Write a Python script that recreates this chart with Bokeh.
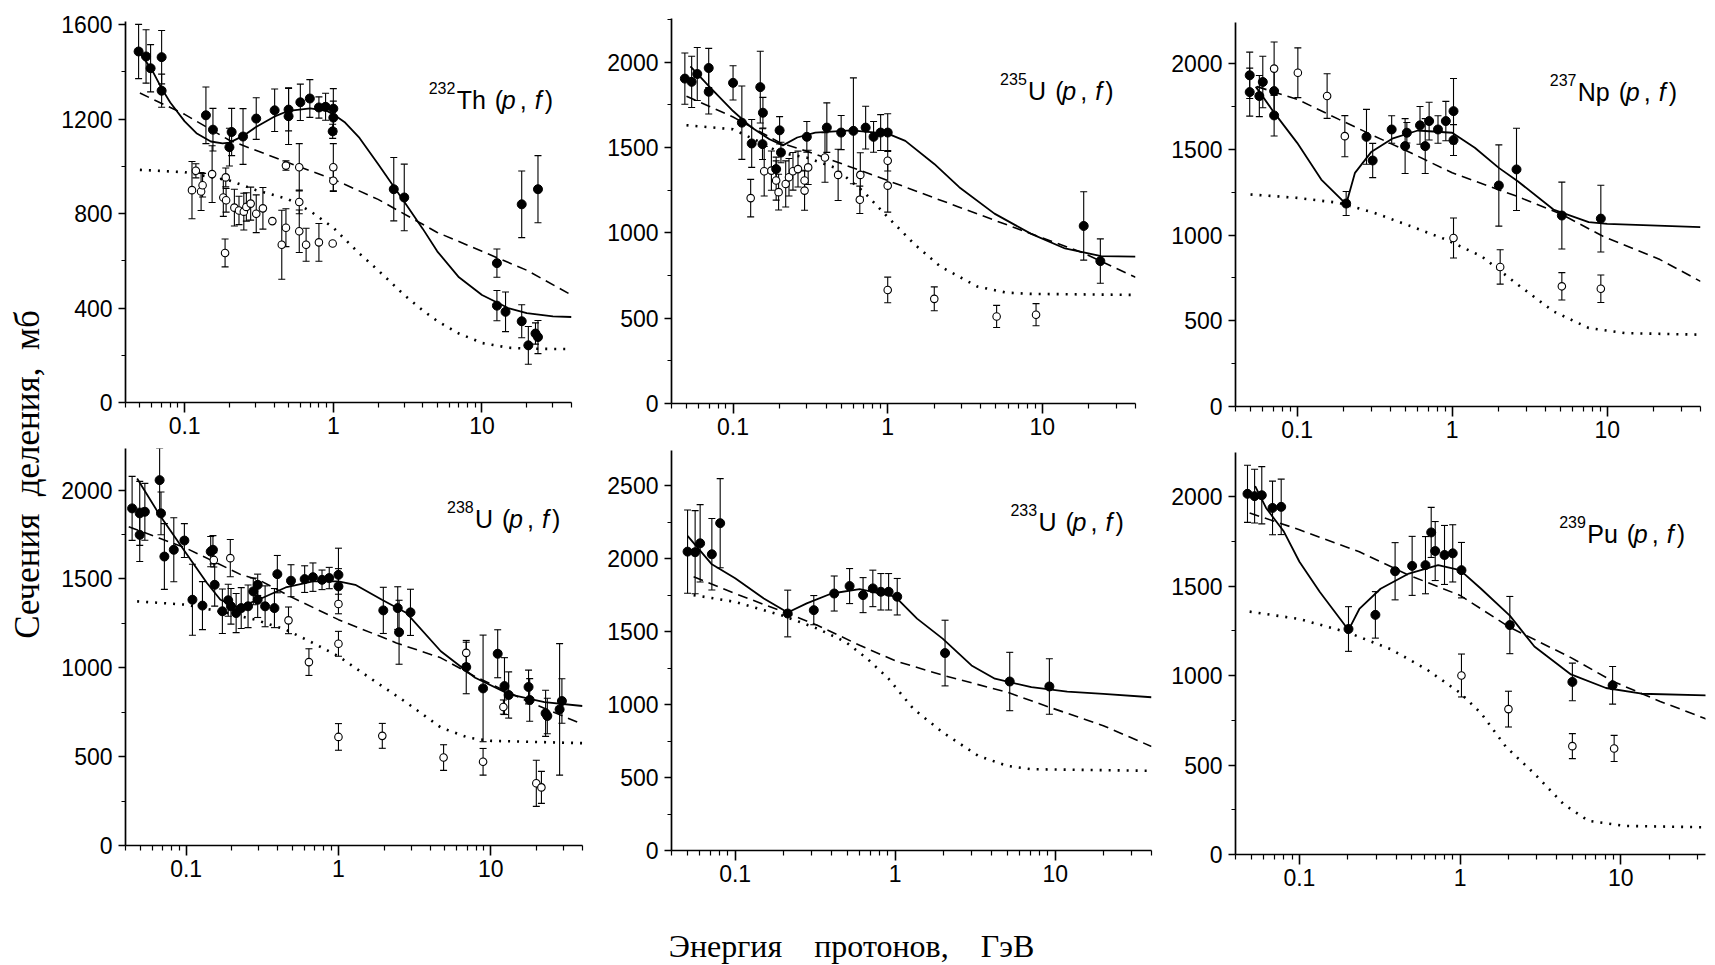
import math
from bokeh.plotting import figure
from bokeh.layouts import row, column
from bokeh.models import (Range1d, FixedTicker, CustomJSTickFormatter, Whisker, TeeHead,
                          ColumnDataSource, Spacer)
from bokeh.core.properties import value
from bokeh.embed import file_html
from bokeh.resources import INLINE

# ---------------- axis tick data ----------------
X_MAJOR = [0.1, 1, 10]
X_MINOR = [0.04, 0.05, 0.06, 0.07, 0.08, 0.09, 0.2, 0.3, 0.4, 0.5, 0.6, 0.7, 0.8, 0.9,
           2, 3, 4, 5, 6, 7, 8, 9, 20, 30, 40]
Y_TICKS_TH = [0, 400, 800, 1200, 1600]
Y_MINOR_TH = [200, 600, 1000, 1400]
Y_TICKS_U = [0, 500, 1000, 1500, 2000]
Y_TICKS_U233 = [0, 500, 1000, 1500, 2000, 2500]
Y_MINOR_U = [250, 750, 1250, 1750, 2250]

NB = "\u00a0"
Y_TITLE = "Сечения" + NB * 2 + "деления," + NB * 2 + "мб"
X_TITLE = "Энергия" + NB * 4 + "протонов," + NB * 4 + "ГэВ"

# ---------------- 232Th ----------------
TH232_F_E = [0.049, 0.055, 0.059, 0.070, 0.070, 0.139, 0.155, 0.200, 0.207, 0.247, 0.303, 0.403, 0.50, 0.50,
             0.60, 0.695, 0.80, 0.887, 1.0, 1.0, 0.99, 2.55, 3.0, 12.6, 12.6, 14.4, 18.5, 18.5, 20.5, 22.9, 23.8, 23.8]
TH232_F_V = [1486, 1465, 1415, 1462, 1320, 1216, 1155, 1081, 1145, 1126, 1202, 1237, 1240, 1212,
             1271, 1287, 1249, 1252, 1244, 1206, 1148, 903, 868, 590, 410, 384, 839, 344, 242, 292, 903, 277]
TH232_F_ERR = [115, 113, 100, 113, 70, 120, 90, 80, 100, 118, 88, 90, 90, 120,
               77, 80, 45, 57, 85, 70, 30, 134, 141, 60, 64, 84, 141, 70, 80, 45, 142, 70]
TH232_O_E = [0.112, 0.119, 0.129, 0.132, 0.153, 0.182, 0.189, 0.187, 0.19, 0.216, 0.232, 0.25, 0.26, 0.278,
             0.303, 0.336, 0.389, 0.45, 0.48, 0.48, 0.59, 0.59, 0.59, 0.656, 0.80, 1.0, 1.0, 0.99]
TH232_O_V = [899, 981, 893, 920, 967, 868, 953, 633, 856, 825, 813, 808, 828, 842,
             799, 822, 768, 668, 740, 1003, 996, 849, 725, 668, 678, 996, 939, 673]
TH232_O_ERR = [121, 30, 80, 50, 120, 80, 40, 59, 50, 78, 60, 78, 60, 70,
               80, 88, 0, 146, 80, 20, 100, 50, 90, 70, 80, 100, 45, 0]
TH232_SOLID_E = [0.05, 0.06, 0.07, 0.08, 0.1, 0.12, 0.15, 0.18, 0.2, 0.25, 0.3, 0.4, 0.5, 0.7, 0.9, 1.0,
                 1.2, 1.5, 2, 3, 4, 5, 7, 10, 15, 20, 30, 40]
TH232_SOLID_V = [1480, 1410, 1330, 1270, 1190, 1140, 1105, 1097, 1100, 1130, 1165, 1210, 1235, 1245, 1235, 1220,
                 1185, 1120, 1010, 850, 735, 640, 530, 455, 400, 378, 365, 362]
TH232_DASH_E = [0.05, 0.1, 0.2, 0.5, 1, 2, 5, 10, 20, 40]
TH232_DASH_V = [1310, 1220, 1110, 1015, 945, 860, 720, 640, 560, 455]
TH232_DOT_E = [0.05, 0.1, 0.2, 0.3, 0.5, 0.7, 1, 1.5, 2, 3, 4, 5, 7, 10, 15, 20, 40]
TH232_DOT_V = [985, 975, 940, 900, 860, 810, 740, 630, 560, 455, 390, 345, 292, 252, 232, 228, 226]

# ---------------- 235U ----------------
U235_F_E = [0.0488, 0.054, 0.0587, 0.0696, 0.0696, 0.1, 0.114, 0.132, 0.15, 0.156, 0.155, 0.2, 0.204, 0.19,
            0.3, 0.404, 0.5, 0.6, 0.72, 0.81, 0.9, 1.0, 18.5, 23.7]
U235_F_V = [1903, 1884, 1930, 1965, 1826, 1878, 1645, 1523, 1853, 1703, 1519, 1600, 1470, 1373,
            1562, 1616, 1587, 1597, 1616, 1562, 1587, 1587, 1040, 834]
U235_F_ERR = [150, 150, 155, 115, 130, 100, 215, 140, 210, 90, 90, 80, 60, 70,
              90, 145, 100, 310, 125, 90, 105, 110, 200, 130]
U235_O_E = [0.13, 0.159, 0.177, 0.19, 0.197, 0.219, 0.23, 0.244, 0.263, 0.29, 0.29, 0.306, 0.393, 0.478,
            0.665, 0.66, 1.0, 1.0, 1.0, 2.0, 5.06, 9.1]
U235_O_V = [1203, 1360, 1364, 1306, 1238, 1286, 1325, 1360, 1373, 1247, 1306, 1383, 1441, 1339,
            1339, 1193, 1422, 1276, 665, 613, 510, 520]
U235_O_ERR = [110, 145, 115, 115, 105, 135, 110, 110, 105, 115, 60, 100, 145, 150,
              130, 80, 60, 155, 75, 70, 65, 65]
U235_SOLID_E = [0.053, 0.07, 0.1, 0.132, 0.172, 0.21, 0.26, 0.34, 0.58, 1.0, 1.3, 2.0, 2.9, 4.9, 8.4, 14, 24, 40]
U235_SOLID_V = [1975, 1858, 1713, 1616, 1548, 1512, 1558, 1587, 1600, 1581, 1538, 1403, 1267, 1112, 995, 908, 863, 860]
U235_DASH_E = [0.05, 0.1, 0.2, 0.34, 1.0, 2.9, 8.4, 18.7, 40]
U235_DASH_V = [1800, 1678, 1529, 1461, 1306, 1150, 995, 879, 739]
U235_DOT_E = [0.05, 0.1, 0.15, 0.2, 0.3, 0.45, 0.7, 1, 1.5, 2.2, 3.8, 5.8, 8.4, 40]
U235_DOT_V = [1630, 1606, 1530, 1470, 1440, 1383, 1240, 1092, 930, 801, 685, 650, 642, 636]

# ---------------- 237Np ----------------
NP237_F_E = [0.0494, 0.0494, 0.057, 0.06, 0.071, 0.071, 0.207, 0.28, 0.307, 0.407, 0.497, 0.51, 0.62, 0.67,
             0.71, 0.81, 0.91, 1.02, 1.02, 2.0, 2.6, 5.1, 9.1]
NP237_F_V = [1932, 1834, 1811, 1893, 1840, 1698, 1184, 1573, 1435, 1616, 1519, 1597, 1640, 1519,
             1665, 1616, 1665, 1723, 1554, 1289, 1383, 1114, 1096]
NP237_F_ERR = [135, 140, 120, 150, 130, 120, 70, 160, 100, 80, 160, 60, 110, 160,
               110, 80, 115, 190, 90, 237, 240, 195, 195]
NP237_O_E = [0.071, 0.101, 0.156, 0.203, 1.02, 2.04, 5.1, 9.1]
NP237_O_V = [1971, 1947, 1811, 1577, 983, 814, 701, 687]
NP237_O_ERR = [155, 145, 130, 120, 117, 100, 80, 80]
NP237_SOLID_E = [0.054, 0.071, 0.1, 0.143, 0.207, 0.236, 0.3, 0.41, 0.6, 1.0, 1.4, 2.0, 2.65, 4.5, 7.6, 10, 40]
NP237_SOLID_V = [1866, 1714, 1538, 1324, 1180, 1363, 1484, 1562, 1610, 1597, 1509, 1392, 1314, 1149, 1075, 1065, 1046]
NP237_DASH_E = [0.055, 0.1, 0.186, 0.316, 0.54, 1.0, 2.6, 5.1, 9.4, 21.9, 40]
NP237_DASH_V = [1866, 1792, 1675, 1577, 1480, 1363, 1227, 1120, 993, 857, 730]
NP237_DOT_E = [0.05, 0.1, 0.186, 0.316, 0.54, 0.91, 1.55, 2.65, 4.5, 7.6, 13, 40]
NP237_DOT_V = [1237, 1217, 1188, 1129, 1052, 974, 876, 711, 555, 458, 428, 419]

# ---------------- 238U ----------------
U238_F_E = [0.0442, 0.0496, 0.0496, 0.0536, 0.067, 0.0684, 0.072, 0.083, 0.0974, 0.11, 0.128, 0.145, 0.15, 0.154,
            0.173, 0.189, 0.197, 0.213, 0.23, 0.255, 0.276, 0.295, 0.295, 0.33, 0.38, 0.397, 0.488, 0.6, 0.68,
            0.78, 0.87, 1.0, 1.0, 1.97, 2.45, 2.5, 2.97, 6.9, 8.9, 11.1, 12.3, 13.1, 17.7, 18, 22.9, 23.5, 28.3, 29.3]
U238_F_V = [1897, 1869, 1748, 1878, 2056, 1869, 1626, 1664, 1716, 1383, 1350, 1654, 1664, 1467,
            1318, 1380, 1346, 1308, 1336, 1346, 1430, 1467, 1383, 1346, 1336, 1527, 1490, 1499, 1510,
            1495, 1505, 1523, 1458, 1323, 1336, 1200, 1312, 1004, 884, 1079, 897, 847, 892, 819, 744, 729, 766, 813]
U238_F_ERR = [180, 180, 150, 160, 180, 120, 185, 180, 95, 200, 135, 85, 80, 120,
              125, 90, 100, 110, 115, 120, 75, 60, 100, 115, 110, 105, 90, 75, 80,
              55, 60, 150, 100, 130, 120, 180, 130, 150, 300, 135, 160, 130, 95, 120, 130, 100, 370, 125]
U238_O_E = [0.152, 0.195, 0.47, 0.64, 1.0, 1.0, 1.0, 1.94, 4.9, 6.9, 8.9, 12.1, 19.9, 21.5]
U238_O_V = [1607, 1617, 1267, 1032, 1359, 1135, 611, 617, 495, 1084, 471, 779, 350, 327]
U238_O_ERR = [40, 105, 75, 75, 55, 70, 75, 70, 72, 60, 75, 40, 130, 90]
U238_SOLID_E = [0.0477, 0.067, 0.1, 0.137, 0.168, 0.218, 0.298, 0.45, 0.68, 1.0, 1.29, 1.93, 2.8, 4.7, 7.9, 13.3, 22.5, 40]
U238_SOLID_V = [2065, 1860, 1645, 1477, 1383, 1340, 1383, 1452, 1486, 1486, 1467, 1383, 1308, 1093, 944, 850, 807, 785]
U238_DASH_E = [0.042, 0.067, 0.1, 0.16, 0.23, 0.3, 0.48, 1.0, 2.4, 4.7, 7.9, 17.3, 40]
U238_DASH_V = [1794, 1729, 1673, 1589, 1523, 1495, 1402, 1271, 1140, 1056, 950, 813, 682]
U238_DOT_E = [0.0477, 0.1, 0.187, 0.283, 0.45, 0.68, 1.0, 1.66, 2.8, 4.7, 7.1, 10, 40]
U238_DOT_V = [1374, 1355, 1308, 1271, 1215, 1140, 1065, 935, 804, 664, 607, 589, 576]

# ---------------- 233U ----------------
U233_F_E = [0.0504, 0.0562, 0.0604, 0.0715, 0.0806, 0.213, 0.31, 0.416, 0.519, 0.63, 0.725, 0.814, 0.91, 1.03,
            2.05, 5.2, 9.2]
U233_F_V = [2048, 2044, 2105, 2030, 2243, 1624, 1647, 1761, 1812, 1750, 1796, 1773, 1773, 1739, 1353, 1158, 1124]
U233_F_ERR = [285, 285, 265, 245, 305, 160, 100, 120, 120, 120, 125, 125, 125, 125, 225, 200, 190]
U233_SOLID_E = [0.0504, 0.0715, 0.1, 0.151, 0.213, 0.28, 0.4, 0.6, 1.0, 1.37, 1.98, 3.0, 4.2, 7.1, 11.9, 20, 40]
U233_SOLID_V = [2156, 1961, 1865, 1727, 1631, 1693, 1761, 1791, 1739, 1589, 1452, 1268, 1177, 1119, 1089, 1073, 1050]
U233_DASH_E = [0.055, 0.1, 0.213, 0.326, 0.6, 1.0, 2.0, 5.0, 9.2, 20, 40]
U233_DASH_V = [1876, 1761, 1624, 1544, 1406, 1300, 1200, 1085, 982, 855, 713]
U233_DOT_E = [0.055, 0.1, 0.195, 0.326, 0.49, 0.67, 0.91, 1.3, 1.98, 3.3, 5.0, 7.1, 40]
U233_DOT_V = [1750, 1704, 1612, 1521, 1429, 1314, 1177, 970, 810, 649, 580, 557, 546]

# ---------------- 239Pu ----------------
PU239_F_E = [0.0475, 0.0526, 0.0583, 0.068, 0.077, 0.202, 0.297, 0.394, 0.503, 0.609, 0.661, 0.70, 0.80, 0.90,
             1.02, 2.04, 5.0, 8.9]
PU239_F_V = [2017, 2004, 2009, 1938, 1944, 1261, 1340, 1584, 1614, 1618, 1801, 1697, 1675, 1684,
             1590, 1283, 965, 946]
PU239_F_ERR = [160, 150, 160, 150, 155, 125, 130, 160, 165, 160, 140, 165, 165, 160, 155, 160, 105, 105]
PU239_O_E = [1.02, 2.0, 5.0, 9.1]
PU239_O_V = [1001, 813, 606, 593]
PU239_O_ERR = [120, 100, 70, 73]
PU239_SOLID_E = [0.053, 0.062, 0.08, 0.1, 0.134, 0.202, 0.236, 0.32, 0.48, 0.73, 1.0, 1.35, 2.04, 2.9, 4.9, 8.1, 13.5, 40]
PU239_SOLID_V = [2060, 1938, 1806, 1637, 1468, 1255, 1373, 1486, 1571, 1618, 1590, 1486, 1336, 1163, 1007, 931, 899, 888]
PU239_DASH_E = [0.049, 0.1, 0.236, 0.48, 1.0, 2.04, 4.9, 8.9, 17.6, 40]
PU239_DASH_V = [1910, 1816, 1693, 1562, 1449, 1270, 1101, 969, 856, 734]
PU239_DOT_E = [0.049, 0.1, 0.2, 0.37, 0.62, 1.0, 1.35, 1.93, 2.9, 4.4, 6.3, 10.5, 40]
PU239_DOT_V = [1358, 1317, 1242, 1148, 1035, 904, 790, 602, 452, 282, 188, 160, 151]

TICK_FONT = "Liberation Sans Narrow, Liberation Sans"
LABEL_FONT = "Liberation Sans"
TITLE_FONT = "Liberation Serif"

CHAR_W = {"T": 0.611, "h": 0.556, "U": 0.722, "N": 0.722, "p": 0.556, "P": 0.667, "u": 0.556}


def make_panel(geom, xmax, ymax, yticks, yminor, data, label, label_pos):
    top_gap, width, mbl, mbr, mbt, frame_h, mbb = geom
    p = figure(width=width, height=mbt + frame_h + mbb, x_axis_type="log",
               x_range=Range1d(0.04, xmax), y_range=Range1d(0, ymax),
               output_backend="svg", toolbar_location=None,
               min_border_left=mbl, min_border_right=mbr,
               min_border_top=mbt, min_border_bottom=mbb)
    p.xgrid.visible = False
    p.ygrid.visible = False
    p.outline_line_color = None
    p.background_fill_color = "white"
    p.border_fill_color = "white"

    p.xaxis.ticker = FixedTicker(ticks=X_MAJOR, minor_ticks=X_MINOR)
    p.xaxis.formatter = CustomJSTickFormatter(code="return tick.toString();")
    p.yaxis.ticker = FixedTicker(ticks=yticks, minor_ticks=yminor)
    for ax in (p.xaxis[0], p.yaxis[0]):
        ax.axis_line_width = 1.7
        ax.axis_line_color = "black"
        ax.major_tick_line_width = 1.6
        ax.major_tick_line_color = "black"
        ax.minor_tick_line_width = 1.2
        ax.minor_tick_line_color = "black"
        ax.major_tick_in = 0
        ax.minor_tick_in = 0
        ax.major_label_text_font = TICK_FONT
        ax.major_label_text_font_size = "23px"
        ax.major_label_text_color = "black"
    p.xaxis.major_tick_out = 10
    p.xaxis.minor_tick_out = 5
    p.xaxis.major_label_standoff = 4
    p.yaxis.major_tick_out = 7
    p.yaxis.minor_tick_out = 4
    p.yaxis.major_label_standoff = 6

    fE, fV, fErr, oE, oV, oErr, sE, sV, dE, dV, tE, tV = data
    p.line(sE, sV, line_color="black", line_width=1.8)
    p.line(dE, dV, line_color="black", line_width=1.6, line_dash="10 6")
    p.line(tE, tV, line_color="black", line_width=2.6, line_dash="2 7")

    for E, V, ERR, filled in ((oE, oV, oErr, False), (fE, fV, fErr, True)):
        if not E:
            continue
        src = ColumnDataSource(dict(x=E, y=V,
                                    up=[v + e for v, e in zip(V, ERR)],
                                    lo=[v - e for v, e in zip(V, ERR)]))
        w = Whisker(base="x", upper="up", lower="lo", source=src, dimension="height",
                    line_color="black", line_width=1.1,
                    upper_head=TeeHead(size=7, line_width=1.1, line_color="black"),
                    lower_head=TeeHead(size=7, line_width=1.1, line_color="black"))
        p.add_layout(w)
        if filled:
            p.scatter("x", "y", source=src, size=9, marker="circle",
                      fill_color="black", line_color="black", line_width=1)
        else:
            p.scatter("x", "y", source=src, size=7.5, marker="circle",
                      fill_color="white", line_color="black", line_width=1.1)

    sup, elem = label
    lx, ly = label_pos
    fs = 25
    sup_w = 27
    el_x = sup_w + 1
    el_end = el_x + sum(CHAR_W[c] for c in elem) * fs
    paren = el_end + 9
    pieces = [
        (sup, "16px", "normal", 0, -12),
        (elem, f"{fs}px", "normal", el_x, 0),
        ("(", f"{fs}px", "normal", paren, 0),
        ("p", f"{fs}px", "italic", paren + 7, 0),
        (",", f"{fs}px", "normal", paren + 25, 0),
        ("f", f"{fs}px", "italic", paren + 40, 0),
        (")", f"{fs}px", "normal", paren + 50, 0),
    ]
    for txt, size, style, xo, yo in pieces:
        p.text(x=[lx], y=[ly], text=[txt], x_offset=xo, y_offset=yo,
               text_font=value(LABEL_FONT), text_font_size=size, text_font_style=style,
               text_color="black", text_align="left", text_baseline="alphabetic")
    if top_gap > 0:
        return column(Spacer(width=width, height=top_gap), p)
    return column(p)


# geometry: (top gap, width, border left, border right, border top, frame height, border bottom)
panels = [
    make_panel((7, 546, 62, 33, 14, 381, 42), 40, 1613, Y_TICKS_TH, Y_MINOR_TH,
               (TH232_F_E, TH232_F_V, TH232_F_ERR, TH232_O_E, TH232_O_V, TH232_O_ERR,
                TH232_SOLID_E, TH232_SOLID_V, TH232_DASH_E, TH232_DASH_V, TH232_DOT_E, TH232_DOT_V),
               ("232", "Th"), (4.38, 1281)),
    make_panel((4, 564, 66, 33, 14, 385, 42), 40, 2255, Y_TICKS_U, Y_MINOR_U,
               (U235_F_E, U235_F_V, U235_F_ERR, U235_O_E, U235_O_V, U235_O_ERR,
                U235_SOLID_E, U235_SOLID_V, U235_DASH_E, U235_DASH_V, U235_DOT_E, U235_DOT_V),
               ("235", "U"), (5.33, 1831)),
    make_panel((8, 539, 65, 7, 14, 384, 42), 40, 2240, Y_TICKS_U, Y_MINOR_U,
               (NP237_F_E, NP237_F_V, NP237_F_ERR, NP237_O_E, NP237_O_V, NP237_O_ERR,
                NP237_SOLID_E, NP237_SOLID_V, NP237_DASH_E, NP237_DASH_V, NP237_DOT_E, NP237_DOT_V),
               ("237", "Np"), (4.26, 1832)),
    make_panel((0, 546, 63, 22, 0, 397, 48), 40, 2234, Y_TICKS_U, Y_MINOR_U,
               (U238_F_E, U238_F_V, U238_F_ERR, U238_O_E, U238_O_V, U238_O_ERR,
                U238_SOLID_E, U238_SOLID_V, U238_DASH_E, U238_DASH_V, U238_DOT_E, U238_DOT_V),
               ("238", "U"), (5.16, 1838)),
    make_panel((2, 564, 66, 17, 0, 400, 48), 40, 2741, Y_TICKS_U233, Y_MINOR_U,
               (U233_F_E, U233_F_V, U233_F_ERR, [], [], [],
                U233_SOLID_E, U233_SOLID_V, U233_DASH_E, U233_DASH_V, U233_DOT_E, U233_DOT_V),
               ("233", "U"), (5.25, 2250)),
    make_panel((4, 539, 66, 2, 0, 402, 48), 33.7, 2248, Y_TICKS_U, Y_MINOR_U,
               (PU239_F_E, PU239_F_V, PU239_F_ERR, PU239_O_E, PU239_O_V, PU239_O_ERR,
                PU239_SOLID_E, PU239_SOLID_V, PU239_DASH_E, PU239_DASH_V, PU239_DOT_E, PU239_DOT_V),
               ("239", "Pu"), (4.14, 1790)),
]


def blank(width, height):
    f = figure(width=width, height=height, x_range=Range1d(0, width), y_range=Range1d(0, height),
               output_backend="svg", toolbar_location=None,
               min_border=0, min_border_left=0, min_border_right=0, min_border_top=0, min_border_bottom=0)
    f.axis.visible = False
    f.xgrid.visible = False
    f.ygrid.visible = False
    f.outline_line_color = None
    f.background_fill_color = "white"
    f.border_fill_color = "white"
    return f


fy = blank(58, 902)
fy.text(x=[27], y=[428], text=[Y_TITLE], angle=math.pi / 2, text_font=value(TITLE_FONT),
        text_font_size="35px", text_color="black", text_align="center", text_baseline="middle")

fx = blank(1649, 62)
fx.text(x=[793], y=[19], text=[X_TITLE], text_font=value(TITLE_FONT),
        text_font_size="32px", text_color="black", text_align="center", text_baseline="middle")

layout = row(fy, column(row(panels[0], panels[1], panels[2]),
                        row(panels[3], panels[4], panels[5]),
                        fx))

open("out.html", "w").write(file_html(layout, INLINE))
